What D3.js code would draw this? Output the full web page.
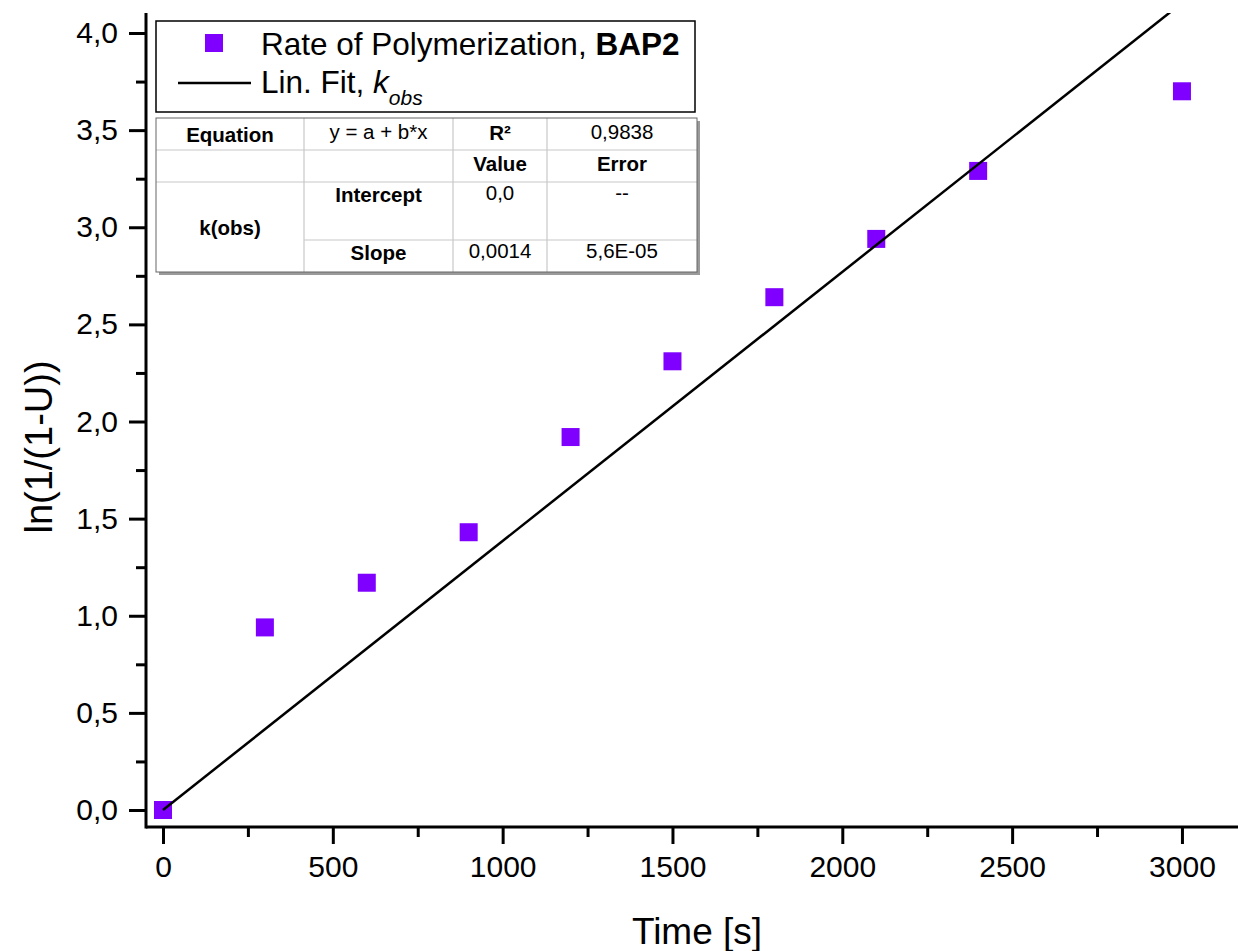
<!DOCTYPE html>
<html>
<head>
<meta charset="utf-8">
<script src="https://cdn.jsdelivr.net/npm/d3@7"></script>
<style>
html,body{margin:0;padding:0;background:#fff;}
svg{display:block;font-family:"Liberation Sans",Arial,sans-serif;}
</style>
</head>
<body>
<svg id="chart" width="1238" height="951"></svg>
<script>
// ---- data ----
const timeS = [0, 300, 600, 900, 1200, 1500, 1800, 2100, 2400, 3000];
const lnVals = [0, 0.94, 1.17, 1.43, 1.92, 2.31, 2.64, 2.94, 3.29, 3.70];
const xTickVals = [0, 500, 1000, 1500, 2000, 2500, 3000];
const xMinorVals = [250, 750, 1250, 1750, 2250, 2750];
const yTickVals = [0, 0.5, 1.0, 1.5, 2.0, 2.5, 3.0, 3.5, 4.0];
const yMinorVals = [0.25, 0.75, 1.25, 1.75, 2.25, 2.75, 3.25, 3.75];
const fitIntercept = 0;
const fitSlope = 0.001385;
const legendSeries = "Rate of Polymerization, ";
const legendSeriesBold = "BAP2";
const xTitle = "Time [s]";
const yTitle = "ln(1/(1-U))";
const tableEquation = ["Equation", "y = a + b*x", "R²", "0,9838"];
const tableHeader = ["", "", "Value", "Error"];
const tableGroup = "k(obs)";
const tableIntercept = ["Intercept", "0,0", "--"];
const tableSlope = ["Slope", "0,0014", "5,6E-05"];

// ---- layout ----
const svg = d3.select("#chart");
const L = 146, R = 1238, T = 13, B = 827;
const x = d3.scaleLinear().domain([-50, 3165]).range([L, R]);
const y = d3.scaleLinear().domain([-0.0875, 4.103]).range([B, T]);
const fmtY = v => d3.format(".1f")(v).replace(".", ",");

svg.append("defs").append("clipPath").attr("id", "clip")
  .append("rect").attr("x", L).attr("y", T).attr("width", R - L).attr("height", B - T);

// axes
const xAxis = d3.axisBottom(x).tickValues(xTickVals).tickSize(17).tickPadding(12).tickFormat(d3.format("d"));
const gx = svg.append("g").attr("transform", `translate(0,${B})`).call(xAxis);
gx.select(".domain").remove();
gx.selectAll(".tick line").attr("stroke", "#000").attr("stroke-width", 3);
gx.selectAll(".tick text").attr("font-size", 30).attr("fill", "#000").attr("font-family", "Liberation Sans, Arial, sans-serif");
const gxm = svg.append("g").attr("transform", `translate(0,${B})`).call(d3.axisBottom(x).tickValues(xMinorVals).tickSize(10).tickFormat(""));
gxm.select(".domain").remove();
gxm.selectAll(".tick line").attr("stroke", "#000").attr("stroke-width", 3);

const yAxis = d3.axisLeft(y).tickValues(yTickVals).tickSize(17).tickPadding(11).tickFormat(fmtY);
const gy = svg.append("g").attr("transform", `translate(${L},0)`).call(yAxis);
gy.select(".domain").remove();
gy.selectAll(".tick line").attr("stroke", "#000").attr("stroke-width", 3);
gy.selectAll(".tick text").attr("font-size", 30).attr("fill", "#000").attr("font-family", "Liberation Sans, Arial, sans-serif");
const gym = svg.append("g").attr("transform", `translate(${L},0)`).call(d3.axisLeft(y).tickValues(yMinorVals).tickSize(10).tickFormat(""));
gym.select(".domain").remove();
gym.selectAll(".tick line").attr("stroke", "#000").attr("stroke-width", 3);

// axis lines
svg.append("line").attr("x1", L).attr("x2", R).attr("y1", B).attr("y2", B).attr("stroke", "#000").attr("stroke-width", 3);
svg.append("line").attr("x1", L).attr("x2", L).attr("y1", T).attr("y2", B + 1.5).attr("stroke", "#000").attr("stroke-width", 3);

// titles
svg.append("text").attr("x", 697).attr("y", 944).attr("text-anchor", "middle")
  .attr("font-size", 37).attr("fill", "#000").text(xTitle);
svg.append("text").attr("transform", "translate(52,447) rotate(-90)").attr("text-anchor", "middle")
  .attr("font-size", 38).attr("fill", "#000").text(yTitle);

// markers
const plot = svg.append("g").attr("clip-path", "url(#clip)");
const ms = 18;
plot.selectAll("rect.pt").data(timeS.map((t, i) => [t, lnVals[i]])).enter().append("rect")
  .attr("class", "pt")
  .attr("x", d => x(d[0]) - ms / 2).attr("y", d => y(d[1]) - ms / 2)
  .attr("width", ms).attr("height", ms).attr("fill", "#7f00ff");

// fit line
const fitX = [0, 3165];
plot.append("path").datum(fitX.map(t => [t, fitIntercept + fitSlope * t]))
  .attr("d", d3.line().x(d => x(d[0])).y(d => y(d[1])))
  .attr("stroke", "#000").attr("stroke-width", 2.5).attr("fill", "none");

// legend
const lg = svg.append("g");
lg.append("rect").attr("x", 156).attr("y", 21).attr("width", 539).attr("height", 91)
  .attr("fill", "#fff").attr("stroke", "#000").attr("stroke-width", 1.5);
lg.append("rect").attr("x", 214 - 9).attr("y", 43 - 9).attr("width", 18).attr("height", 18).attr("fill", "#7f00ff");
const t1 = lg.append("text").attr("x", 261).attr("y", 55).attr("font-size", 31.5).attr("fill", "#000");
t1.append("tspan").text(legendSeries);
t1.append("tspan").attr("font-weight", "bold").text(legendSeriesBold);
lg.append("line").attr("x1", 178).attr("x2", 251).attr("y1", 83).attr("y2", 83).attr("stroke", "#000").attr("stroke-width", 2.5);
const t2 = lg.append("text").attr("x", 261).attr("y", 93).attr("font-size", 31.5).attr("fill", "#000");
t2.append("tspan").text("Lin. Fit, ");
t2.append("tspan").attr("font-style", "italic").text("k");
t2.append("tspan").attr("font-style", "italic").attr("font-size", 21).attr("dy", 12).text("obs");

// table
const colX = [156, 304, 453, 547, 697];
const rowY = [118, 150, 182, 240, 272];
const tg = svg.append("g");
tg.append("rect").attr("x", colX[0] + 3).attr("y", rowY[0] + 3).attr("width", colX[4] - colX[0]).attr("height", rowY[4] - rowY[0]).attr("fill", "#9a9a9a");
tg.append("rect").attr("x", colX[0]).attr("y", rowY[0]).attr("width", colX[4] - colX[0]).attr("height", rowY[4] - rowY[0]).attr("fill", "#fff");
const gridC = "#c8c8c8";
[1, 2, 3].forEach(i => tg.append("line").attr("x1", colX[i]).attr("x2", colX[i]).attr("y1", rowY[0]).attr("y2", rowY[4]).attr("stroke", gridC).attr("stroke-width", 1.2));
[1, 2].forEach(j => tg.append("line").attr("x1", colX[0]).attr("x2", colX[4]).attr("y1", rowY[j]).attr("y2", rowY[j]).attr("stroke", gridC).attr("stroke-width", 1.2));
tg.append("line").attr("x1", colX[1]).attr("x2", colX[4]).attr("y1", rowY[3]).attr("y2", rowY[3]).attr("stroke", gridC).attr("stroke-width", 1.2);
tg.append("rect").attr("x", colX[0]).attr("y", rowY[0]).attr("width", colX[4] - colX[0]).attr("height", rowY[4] - rowY[0])
  .attr("fill", "none").attr("stroke", "#666").attr("stroke-width", 1);
const cx = i => (colX[i] + colX[i + 1]) / 2;
function cell(i, yy, txt, bold) {
  tg.append("text").attr("x", cx(i)).attr("y", yy).attr("text-anchor", "middle")
    .attr("font-size", 20.5).attr("font-weight", bold ? "bold" : "normal").attr("fill", "#000").text(txt);
}
cell(0, 142, tableEquation[0], true);
cell(1, 139, tableEquation[1], false);
cell(2, 140, tableEquation[2], true);
cell(3, 139, tableEquation[3], false);
cell(2, 171, tableHeader[2], true);
cell(3, 171, tableHeader[3], true);
cell(1, 202, tableIntercept[0], true);
cell(2, 200, tableIntercept[1], false);
cell(3, 200, tableIntercept[2], false);
cell(0, 235, tableGroup, true);
cell(1, 260, tableSlope[0], true);
cell(2, 258, tableSlope[1], false);
cell(3, 258, tableSlope[2], false);
</script>
</body>
</html>
